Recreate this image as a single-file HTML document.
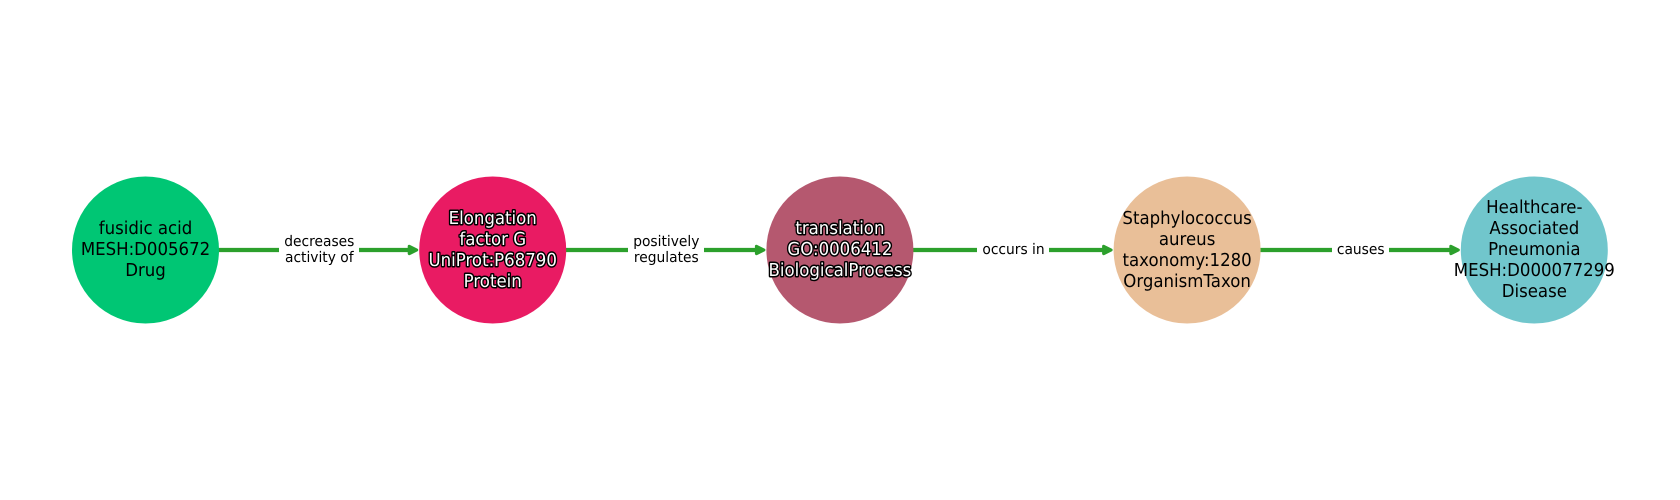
<!DOCTYPE html>
<html><head><meta charset="utf-8">
<style>
html,body{margin:0;padding:0;background:#fff}
svg{display:block}
text{font-family:"DejaVu Sans",sans-serif;text-anchor:middle;text-rendering:geometricPrecision}
.n{font-size:16.67px;fill:#000}
.w{font-size:16.67px;fill:#fff;stroke:#000;stroke-width:2.8px;paint-order:stroke;stroke-linejoin:round}
.e{font-size:13.89px;fill:#000}
</style></head><body>
<svg width="1680" height="500" viewBox="0 0 1680 500" xmlns="http://www.w3.org/2000/svg">
<rect width="1680" height="500" fill="#fff"/>
<g stroke="#2ca02c" stroke-width="4.2" fill="none">
<line x1="218" y1="250" x2="412" y2="250"/>
<line x1="566" y1="250" x2="759" y2="250"/>
<line x1="913" y1="250" x2="1106" y2="250"/>
<line x1="1260" y1="250" x2="1453" y2="250"/>
</g>
<g fill="#2ca02c" stroke="#2ca02c" stroke-width="3.2" stroke-linejoin="round">
<path d="M409.3 246.4L416.6 250L409.3 253.6Z"/>
<path d="M756.5 246.4L763.8 250L756.5 253.6Z"/>
<path d="M1103.7 246.4L1111 250L1103.7 253.6Z"/>
<path d="M1450.9 246.4L1458.2 250L1450.9 253.6Z"/>
</g>
<g fill="#fff">
<rect x="279" y="232" width="80" height="36"/>
<rect x="628" y="232" width="76" height="36"/>
<rect x="977" y="240" width="72" height="20"/>
<rect x="1332" y="240" width="57" height="20"/>
</g>
<circle cx="145.5" cy="250" r="73.5" fill="#00c674"/>
<circle cx="492.7" cy="250" r="73.5" fill="#e91b63"/>
<circle cx="839.9" cy="250" r="73.5" fill="#b5586f"/>
<circle cx="1187.1" cy="250" r="73.5" fill="#e9bf98"/>
<circle cx="1534.3" cy="250" r="73.5" fill="#71c6cc"/>
<text class="n" transform="translate(145.5,234) scale(.995,1.07)">fusidic acid</text>
<text class="n" transform="translate(145.5,255) scale(.995,1.07)">MESH:D005672</text>
<text class="n" transform="translate(145.5,276) scale(.995,1.07)">Drug</text>
<text class="w" transform="translate(492.7,224) scale(.995,1.07)">Elongation</text>
<text class="w" transform="translate(492.7,245) scale(.995,1.07)">factor G</text>
<text class="w" transform="translate(492.7,266) scale(.995,1.07)">UniProt:P68790</text>
<text class="w" transform="translate(492.7,287) scale(.995,1.07)">Protein</text>
<text class="w" transform="translate(839.9,234) scale(.995,1.07)">translation</text>
<text class="w" transform="translate(839.9,255) scale(.995,1.07)">GO:0006412</text>
<text class="w" transform="translate(839.9,276) scale(.995,1.07)">BiologicalProcess</text>
<text class="n" transform="translate(1187.1,224) scale(.995,1.07)">Staphylococcus</text>
<text class="n" transform="translate(1187.1,245) scale(.995,1.07)">aureus</text>
<text class="n" transform="translate(1187.1,266) scale(.995,1.07)">taxonomy:1280</text>
<text class="n" transform="translate(1187.1,287) scale(.995,1.07)">OrganismTaxon</text>
<text class="n" transform="translate(1534.3,213) scale(.995,1.07)">Healthcare-</text>
<text class="n" transform="translate(1534.3,234) scale(.995,1.07)">Associated</text>
<text class="n" transform="translate(1534.3,255) scale(.995,1.07)">Pneumonia</text>
<text class="n" transform="translate(1534.3,276) scale(.995,1.07)">MESH:D000077299</text>
<text class="n" transform="translate(1534.3,297) scale(.995,1.07)">Disease</text>
<text class="e" transform="translate(319.3,246) scale(.995,1.05)">decreases</text>
<text class="e" transform="translate(319.3,262) scale(.995,1.05)">activity of</text>
<text class="e" transform="translate(666.3,246) scale(.995,1.05)">positively</text>
<text class="e" transform="translate(666.3,262) scale(.995,1.05)">regulates</text>
<text class="e" transform="translate(1013.5,254) scale(.995,1.05)">occurs in</text>
<text class="e" transform="translate(1360.7,254) scale(.995,1.05)">causes</text>
</svg>
</body></html>
